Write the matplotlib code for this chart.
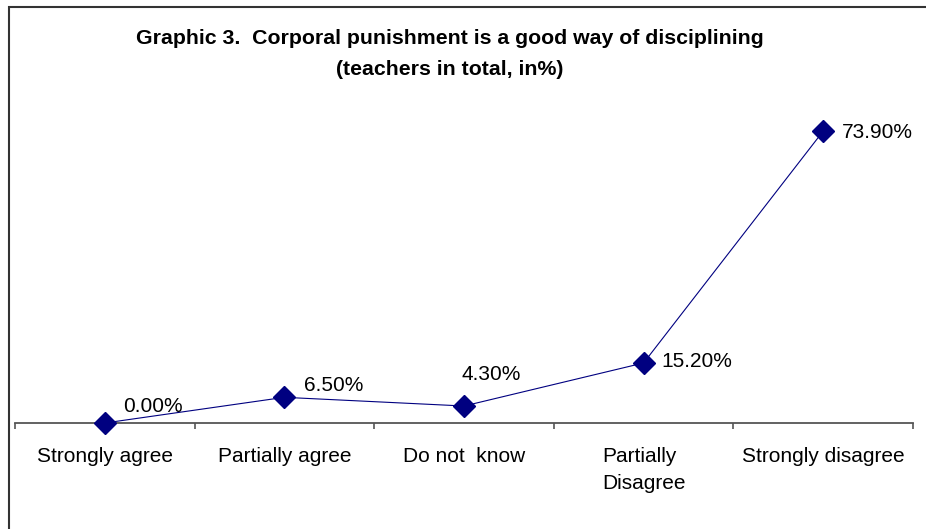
import matplotlib
matplotlib.use('Agg')
import matplotlib.pyplot as plt
from matplotlib.patches import Rectangle

plt.rcParams['font.family'] = 'Liberation Sans'

categories = ['Strongly agree', 'Partially agree', 'Do not  know',
              'Partially\nDisagree', 'Strongly disagree']
values = [0.0, 6.5, 4.3, 15.2, 73.9]
labels = ['0.00%', '6.50%', '4.30%', '15.20%', '73.90%']
# label offsets from each point, in pixels
offsets = [(18, 17), (20, 12), (-3, 32), (18, 1), (19, -1)]

W, H = 926, 529
fig = plt.figure(figsize=(W / 100, H / 100), dpi=100)
ax = fig.add_axes([15 / W, 1 - 423 / H, (913 - 15) / W, (423 - 107) / H])

x = range(len(values))
ax.plot(x, values, color='#000080', linewidth=0.8, marker='D',
        markersize=11.5, markerfacecolor='#000080', markeredgecolor='#000080',
        clip_on=False, zorder=3)

for i, (v, lab) in enumerate(zip(values, labels)):
    ax.annotate(lab, (i, v), xytext=offsets[i], textcoords='offset pixels',
                ha='left', va='center', fontsize=15, color='black')

ax.set_xlim(-0.5, len(values) - 0.5)
ax.set_ylim(0, 80)
ax.set_xticks([i - 0.5 for i in range(len(values) + 1)])
ax.set_xticklabels([])
ax.set_xticks(list(x), minor=True)
ax.set_xticklabels(categories, minor=True, fontsize=15)
for t in ax.get_xticklabels(minor=True):
    t.set_multialignment('left')
    t.set_linespacing(1.55)
ax.tick_params(axis='x', which='minor', length=0, pad=17)
ax.tick_params(axis='x', which='major', length=4, width=1.2, color='#555555',
               direction='out')
ax.set_yticks([])
for s in ['left', 'right', 'top']:
    ax.spines[s].set_visible(False)
ax.spines['bottom'].set_color('#555555')
ax.spines['bottom'].set_linewidth(1.3)
ax.patch.set_alpha(0)

fig.text(450 / W, 1 - 54 / H,
         'Graphic 3.  Corporal punishment is a good way of disciplining\n'
         '(teachers in total, in%)',
         ha='center', va='center', fontsize=15.3, fontweight='bold',
         linespacing=1.8)

# outer frame (top and left edges show)
fig.add_artist(Rectangle((8.5 / W, -0.05), 1.2, 1.05 - 7 / H,
                         transform=fig.transFigure, fill=False,
                         edgecolor='#333333', linewidth=1.5))

fig.savefig('out.png', dpi=100)
